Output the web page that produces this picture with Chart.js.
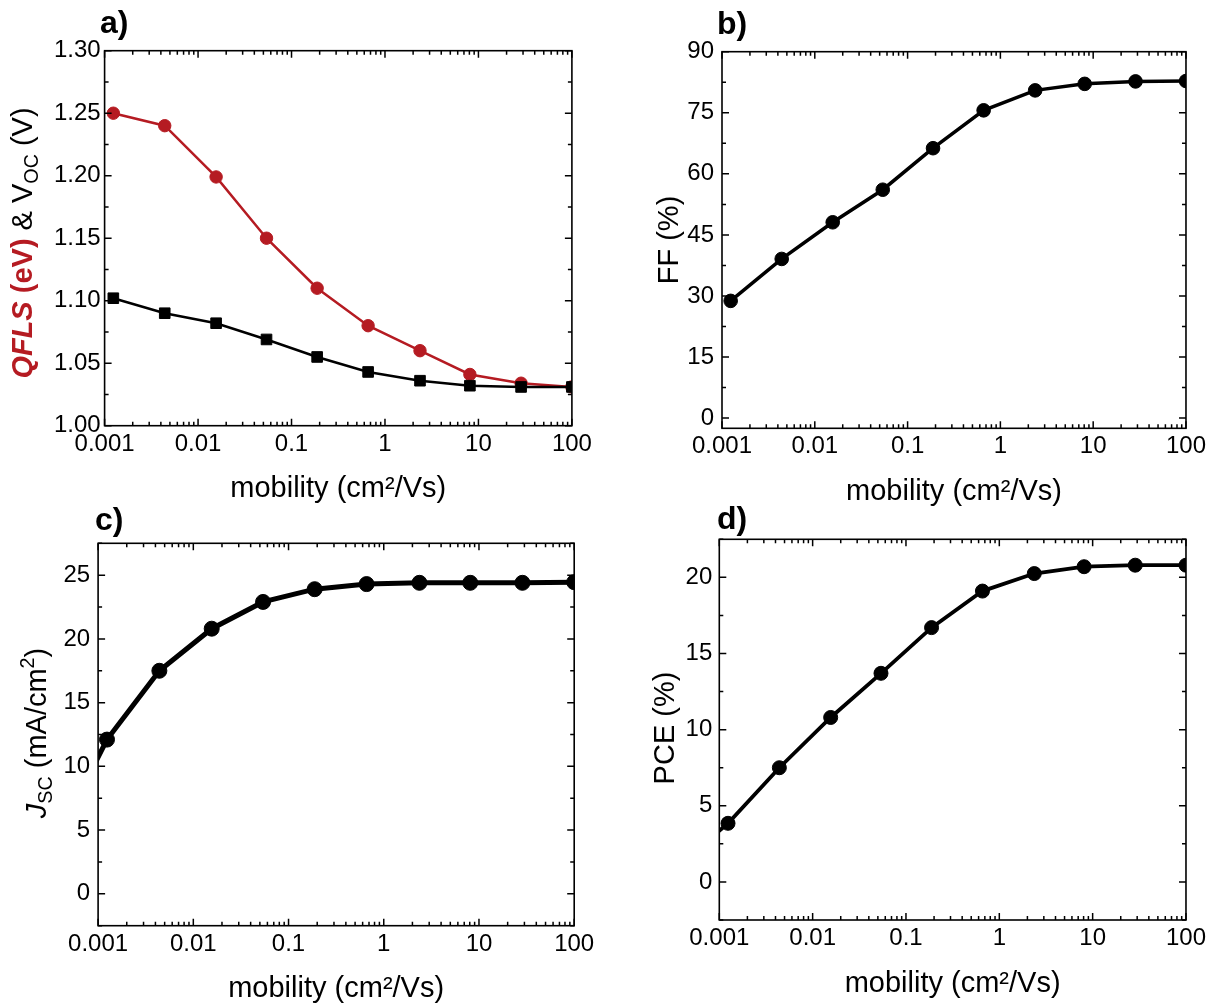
<!DOCTYPE html>
<html>
<head>
<meta charset="utf-8">
<title>Mobility dependence of QFLS, Voc, FF, Jsc and PCE</title>
<script src="https://cdn.jsdelivr.net/npm/chart.js@4.4.0/dist/chart.umd.min.js"></script>
<style>
  body { margin: 0; background: #fff; }
  #wrap { position: relative; width: 1210px; height: 1008px; overflow: hidden; }
  #wrap canvas { position: absolute; left: 0; top: 0; }
</style>
</head>
<body>
<div id="wrap">
  <canvas id="chartA" width="1210" height="1008"></canvas>
  <canvas id="chartB" width="1210" height="1008"></canvas>
  <canvas id="chartC" width="1210" height="1008"></canvas>
  <canvas id="chartD" width="1210" height="1008"></canvas>
</div>
<script>
// mobility sweep (cm2/Vs)
const mobility = [0.00124, 0.0044, 0.0156, 0.054, 0.188, 0.66, 2.37, 8.1, 28.6, 100];
// Jsc and PCE curves also carry one point below the axis range
const mobilityLow = [0.00035, ...mobility];

const qfls = [1.250, 1.240, 1.199, 1.150, 1.110, 1.080, 1.060, 1.041, 1.034, 1.031];
const voc = [1.102, 1.090, 1.082, 1.069, 1.055, 1.043, 1.036, 1.032, 1.031, 1.031];
const ff = [28.8, 39.1, 48.1, 56.1, 66.3, 75.6, 80.5, 82.1, 82.7, 82.8];
const jsc = [4.0, 12.1, 17.5, 20.8, 22.9, 23.9, 24.3, 24.4, 24.4, 24.4, 24.45];
const pce = [1.0, 3.85, 7.5, 10.8, 13.7, 16.7, 19.1, 20.25, 20.7, 20.8, 20.8];

// tick labels
const decadeTicks = [0.001, 0.01, 0.1, 1, 10, 100];
const voltTicks = [1.00, 1.05, 1.10, 1.15, 1.20, 1.25, 1.30];
const ffTicks = [0, 15, 30, 45, 60, 75, 90];
const jscTicks = [0, 5, 10, 15, 20, 25];
const pceTicks = [0, 5, 10, 15, 20];

const FONT = "'Liberation Sans', Arial, Helvetica, sans-serif";
const RED = '#b51b22';
const W = 1210, H = 1008;
const Y_AXIS_W = 70, X_AXIS_H = 81;
const MAJOR = 7, MINOR = 4;
const TICK_SIZE = 24, TITLE_SIZE = 29;

const toPoints = (xs, ys) => xs.map((x, i) => ({ x, y: ys[i] }));

// rotated axis title made of styled runs (italic, sub/superscripts)
function drawRich(ctx, runs, cx, cy, size) {
  ctx.save();
  ctx.translate(cx, cy);
  ctx.rotate(-Math.PI / 2);
  ctx.textAlign = 'left';
  ctx.textBaseline = 'alphabetic';
  const pieces = runs.map(r => {
    const font = `${r.style || 'normal'} ${size * (r.scale || 1)}px ${FONT}`;
    ctx.font = font;
    return Object.assign({}, r, { font, w: ctx.measureText(r.text).width });
  });
  let x = -pieces.reduce((s, p) => s + p.w, 0) / 2;
  const base = size * 0.36;
  pieces.forEach(p => {
    ctx.font = p.font;
    ctx.fillStyle = p.color || '#000';
    ctx.fillText(p.text, x, base + (p.shift || 0) * size);
    x += p.w;
  });
  ctx.restore();
}

function minorValues(ticks, min, max) {
  const step = ticks[1] - ticks[0];
  const out = [];
  for (let v = ticks[0] - step / 2; v >= min - 1e-9; v -= step) out.push(v);
  ticks.forEach(t => { if (t + step / 2 <= max + 1e-9) out.push(t + step / 2); });
  return out;
}

// box frame with inward ticks on all four sides, y title and panel letter
function decorations(cfg) {
  return {
    id: 'decor',
    afterDraw(chart) {
      const { ctx, chartArea: a, scales: { x, y } } = chart;
      ctx.save();
      ctx.strokeStyle = '#000';
      ctx.lineWidth = 1.5;
      ctx.beginPath();
      const xMark = (v, len) => {
        const p = x.getPixelForValue(v);
        ctx.moveTo(p, a.bottom); ctx.lineTo(p, a.bottom - len);
        ctx.moveTo(p, a.top); ctx.lineTo(p, a.top + len);
      };
      const yMark = (v, len) => {
        const p = y.getPixelForValue(v);
        ctx.moveTo(a.left, p); ctx.lineTo(a.left + len, p);
        ctx.moveTo(a.right, p); ctx.lineTo(a.right - len, p);
      };
      decadeTicks.forEach(v => xMark(v, MAJOR));
      decadeTicks.slice(0, -1).forEach(d => {
        for (let k = 2; k <= 9; k++) xMark(d * k, MINOR);
      });
      cfg.yTicks.forEach(v => yMark(v, MAJOR));
      minorValues(cfg.yTicks, cfg.yMin, cfg.yMax).forEach(v => yMark(v, MINOR));
      ctx.stroke();
      ctx.lineWidth = 1.6;
      ctx.strokeRect(a.left, a.top, a.right - a.left, a.bottom - a.top);

      ctx.fillStyle = '#000';
      ctx.font = `bold 32px ${FONT}`;
      ctx.textAlign = 'left';
      ctx.textBaseline = 'alphabetic';
      ctx.fillText(cfg.letter, cfg.letterPos[0], cfg.letterPos[1]);
      ctx.restore();

      drawRich(ctx, cfg.yTitle, cfg.yTitlePos[0], cfg.yTitlePos[1], TITLE_SIZE);
    }
  };
}

function makePanel(id, cfg, datasets) {
  const box = cfg.box;
  new Chart(document.getElementById(id), {
    type: 'line',
    data: { datasets },
    options: {
      responsive: false,
      animation: false,
      events: [],
      layout: {
        padding: { left: box.l - Y_AXIS_W, top: box.t, right: W - box.r, bottom: H - box.b - X_AXIS_H }
      },
      plugins: { legend: { display: false }, tooltip: { enabled: false } },
      scales: {
        x: {
          type: 'logarithmic',
          min: 0.001,
          max: 100,
          afterBuildTicks: s => { s.ticks = decadeTicks.map(v => ({ value: v })); },
          afterFit: s => { s.height = X_AXIS_H; },
          grid: { display: false, drawTicks: false },
          border: { display: false },
          ticks: {
            color: '#000', font: { family: FONT, size: TICK_SIZE }, padding: 4,
            maxRotation: 0, autoSkip: false, callback: v => String(v)
          },
          title: {
            display: true, text: 'mobility (cm²/Vs)', color: '#000',
            font: { family: FONT, size: TITLE_SIZE }, padding: 0
          }
        },
        y: {
          min: cfg.yMin,
          max: cfg.yMax,
          afterBuildTicks: s => { s.ticks = cfg.yTicks.map(v => ({ value: v })); },
          afterFit: s => { s.width = Y_AXIS_W; },
          grid: { display: false, drawTicks: false },
          border: { display: false },
          ticks: {
            color: '#000', font: { family: FONT, size: TICK_SIZE }, padding: cfg.yPad,
            callback: cfg.yFmt
          }
        }
      }
    },
    plugins: [decorations(cfg)]
  });
}

const line = (xs, ys, color, width, radius, style) => ({
  data: toPoints(xs, ys),
  borderColor: color,
  backgroundColor: color,
  borderWidth: width,
  pointRadius: radius,
  pointStyle: style,
  pointBorderWidth: 1,
  pointBackgroundColor: color,
  pointBorderColor: color,
  tension: 0,
  clip: 0
});

// a) QFLS and Voc
makePanel('chartA', {
  box: { l: 104.6, t: 50.7, r: 571.9, b: 425.7 },
  yMin: 1.0, yMax: 1.30, yTicks: voltTicks, yPad: 4,
  yFmt: v => Number(v).toFixed(2),
  letter: 'a)', letterPos: [100, 33],
  yTitlePos: [22, 243],
  yTitle: [
    { text: 'QFLS', style: 'italic bold', color: RED },
    { text: ' (eV)', style: 'bold', color: RED },
    { text: ' & V' },
    { text: 'OC', scale: 0.68, shift: 0.2 },
    { text: ' (V)' }
  ]
}, [
  line(mobility, voc, '#000', 2.5, 7.5, 'rect'),
  line(mobility, qfls, RED, 2.5, 6.2, 'circle')
]);

// b) fill factor
makePanel('chartB', {
  box: { l: 722, t: 51.7, r: 1191.7, b: 428.3 },
  yMin: -2.5, yMax: 90, yTicks: ffTicks, yPad: 8,
  yFmt: v => String(v),
  letter: 'b)', letterPos: [717, 34],
  yTitlePos: [668, 240],
  yTitle: [{ text: 'FF (%)' }]
}, [
  line(mobility, ff, '#000', 3.5, 6.8, 'circle')
]);

// c) short-circuit current density
makePanel('chartC', {
  box: { l: 98.1, t: 543.3, r: 574.2, b: 925.7 },
  yMin: -2.5, yMax: 27.5, yTicks: jscTicks, yPad: 8,
  yFmt: v => String(v),
  letter: 'c)', letterPos: [95, 530],
  yTitlePos: [36, 733],
  yTitle: [
    { text: 'J', style: 'italic' },
    { text: 'SC', scale: 0.68, shift: 0.2 },
    { text: ' (mA/cm' },
    { text: '2', scale: 0.68, shift: -0.42 },
    { text: ')' }
  ]
}, [
  line(mobilityLow, jsc, '#000', 5, 7.5, 'circle')
]);

// d) power conversion efficiency
makePanel('chartD', {
  box: { l: 719.3, t: 539.3, r: 1194.4, b: 920 },
  yMin: -2.5, yMax: 22.5, yTicks: pceTicks, yPad: 7,
  yFmt: v => String(v),
  letter: 'd)', letterPos: [717, 529],
  yTitlePos: [664, 728],
  yTitle: [{ text: 'PCE (%)' }]
}, [
  line(mobilityLow, pce, '#000', 3.8, 7, 'circle')
]);
</script>
</body>
</html>
